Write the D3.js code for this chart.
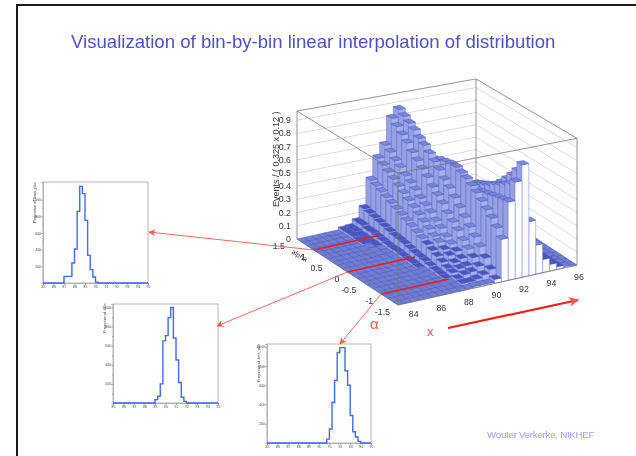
<!DOCTYPE html>
<html>
<head>
<meta charset="utf-8">
<script src="https://cdnjs.cloudflare.com/ajax/libs/d3/7.8.5/d3.min.js"></script>
<style>
	html, body { margin:0; padding:0; background:#fff; }
	svg { display:block; filter:blur(0.6px); font-family:"Liberation Sans", Arial, sans-serif; }
</style>
</head>
<body>
<svg id="plot" width="636" height="456"></svg>
<script>
// values
var alphaBins = [1.425,1.275,1.125,0.975,0.825,0.675,0.525,0.375,0.225,0.075,
	-0.075,-0.225,-0.375,-0.525,-0.675,-0.825,-0.975,-1.125,-1.275,-1.425];
var xBins = [83.25,83.75,84.25,84.75,85.25,85.75,86.25,86.75,87.25,87.75,88.25,88.75,89.25,
	89.75,90.25,90.75,91.25,91.75,92.25,92.75,93.25,93.75,94.25,94.75,95.25,95.75];
var flat = [0,0,0,0,0,0,0,0,0,0,0,0,0,0,0,0,0,0,0,0];
// one list per x bin, running along alphaBins
var heights = [
	flat, flat, flat, flat, flat, flat,
	[.02,.02,.02,.015,.015,.01,.01,.005,.005,0,0,0,0,0,0,0,0,0,0,0],
	[.025,.025,.02,.02,.015,.015,.01,.01,.01,.005,.005,0,0,0,0,0,0,0,0,0],
	[.06,.06,.05,.05,.045,.04,.035,.03,.03,.025,.02,.02,.015,.01,.01,.005,.005,0,0,0],
	[.15,.14,.13,.12,.11,.10,.09,.085,.08,.07,.06,.055,.05,.04,.03,.025,.02,.01,.005,0],
	[.36,.34,.32,.30,.28,.26,.24,.22,.20,.18,.16,.14,.12,.10,.08,.06,.05,.03,.02,.005],
	[.52,.49,.46,.43,.40,.37,.34,.31,.28,.25,.22,.19,.17,.14,.12,.09,.07,.05,.02,.01],
	[.61,.58,.54,.51,.47,.44,.41,.37,.34,.31,.27,.24,.20,.17,.14,.11,.08,.06,.03,.01],
	[.81,.77,.73,.69,.64,.60,.56,.52,.47,.43,.39,.34,.30,.26,.21,.17,.13,.09,.05,.01],
	[.87,.84,.81,.78,.74,.71,.67,.63,.59,.54,.50,.45,.40,.35,.30,.25,.20,.14,.08,.03],
	[.42,.46,.50,.53,.56,.59,.61,.63,.64,.65,.65,.63,.61,.58,.55,.51,.47,.43,.38,.32],
	[.20,.23,.27,.30,.33,.37,.40,.43,.46,.49,.50,.51,.52,.53,.54,.55,.56,.57,.58,.59],
	[.09,.12,.15,.19,.23,.27,.31,.36,.41,.46,.50,.52,.54,.56,.58,.61,.63,.66,.69,.73],
	[.04,.06,.09,.12,.15,.19,.24,.30,.37,.44,.49,.51,.53,.55,.58,.62,.67,.72,.78,.85],
	[.01,.02,.03,.04,.06,.08,.10,.13,.16,.20,.23,.26,.28,.30,.32,.34,.35,.37,.39,.41],
	[0,.01,.01,.02,.03,.04,.05,.06,.08,.10,.11,.13,.14,.15,.16,.17,.18,.19,.20,.22],
	[0,0,.01,.01,.02,.02,.03,.03,.04,.05,.05,.06,.06,.07,.07,.08,.08,.09,.09,.10],
	[0,0,0,.005,.01,.01,.015,.015,.02,.02,.02,.03,.03,.03,.03,.04,.04,.04,.05,.05],
	[0,0,0,0,0,0,.005,.005,.01,.01,.01,.01,.015,.015,.02,.02,.02,.02,.02,.02],
	[0,0,0,0,0,0,0,0,0,0,.005,.005,.005,.005,.01,.01,.01,.01,.01,.01],
	flat
];
var zTicks = [0,0.1,0.2,0.3,0.4,0.5,0.6,0.7,0.8,0.9];
var xTicks = [84,86,88,90,92,94,96];
var alphaTicks = [-1.5,-1,-0.5,0,0.5,1,1.5];
var alphaSlices = [1,0,-1];

// the three projections, 40 bins from 85 to 95
var sliceTop = [0,0,0,0,0,0,0,0,80,80,80,240,408,860,1160,1072,752,332,160,72,10,0,0,0,0,0,0,0,0,0,0,0,0,0,0,0,0,0,0,0];
var sliceMid = [0,0,0,0,0,0,0,0,0,0,0,0,0,0,0,0,35,70,200,650,705,893,1000,680,450,215,60,17,0,0,0,0,0,0,0,0,0,0,0,0];
var sliceLow = [0,0,0,0,0,0,0,0,0,0,0,0,0,0,0,0,0,0,0,0,0,0,0,40,145,420,650,940,990,990,750,600,285,117,62,17,0,0,0,0];
var sliceTicksX = [85,86,87,88,89,90,91,92,93,94,95];
var sliceTicksY = [200,400,600,800,1000];
var sliceMinorX = [85.5,86.5,87.5,88.5,89.5,90.5,91.5,92.5,93.5,94.5];
var sliceMinorY = [100,300,500,700,900];

var svg = d3.select('#plot');

// frame and headings
svg.append('path')
	.attr('d', 'M17,456V5H636')
	.attr('fill', 'none').attr('stroke', '#1c1c1c').attr('stroke-width', 2);
svg.append('text').attr('x', 71).attr('y', 48)
	.attr('font-size', 18.6).attr('fill', '#4f50c9')
	.text('Visualization of bin-by-bin linear interpolation of distribution');
svg.append('text').attr('x', 487).attr('y', 438)
	.attr('font-size', 9.8).attr('fill', '#9da2e8').attr('letter-spacing', -0.3)
	.text('Wouter Verkerke, NIKHEF');

// 3d projection
var tOf = d3.scaleLinear().domain([83,96]).range([0,1]),
	sOf = d3.scaleLinear().domain([-1.5,1.5]).range([0,1]),
	zOf = d3.scaleLinear().domain([0,1]).range([0,136]);
var tX = d3.scaleLinear().domain([0,1]).range([0,179]),
	tY = d3.scaleLinear().domain([0,1]).range([0,-40]),
	sX = d3.scaleLinear().domain([0,1]).range([0,-101]),
	sY = d3.scaleLinear().domain([0,1]).range([0,-66]);

function project(x, a, z) {
	var t = tOf(x), s = sOf(a);
	var shrink = 1 - 0.03*s - 0.04*t - 0.02*s*t;
	return [398 + tX(t) + sX(s), 305 + tY(t) + sY(s) - zOf(z)*shrink];
}
function poly(pts) { return pts.map(function(p) { return p.join(','); }).join(' '); }

var lego = svg.append('g');
var boxColor = '#777';
function edge(a, b, color, width) {
	return lego.append('line')
		.attr('x1', a[0]).attr('y1', a[1]).attr('x2', b[0]).attr('y2', b[1])
		.attr('stroke', color || boxColor).attr('stroke-width', width || 0.8);
}

// back walls with the grid lines
zTicks.forEach(function(z) {
	if (z == 0) return;
	edge(project(83,1.5,z), project(96,1.5,z), '#ccc', 0.7);
	edge(project(96,1.5,z), project(96,-1.5,z), '#ccc', 0.7);
});
edge(project(83,1.5,0), project(83,1.5,0.97));
edge(project(96,1.5,0), project(96,1.5,0.97));
edge(project(96,-1.5,0), project(96,-1.5,0.97));
edge(project(83,1.5,0.97), project(96,1.5,0.97));
edge(project(96,1.5,0.97), project(96,-1.5,0.97));

function topColor(h) {
	if (h <= 0.01) return '#727ed2';
	return h < 0.16 ? '#4a55c2' : '#7a86da';
}

// far cells first
d3.range(alphaBins.length).forEach(function(i) {
	d3.range(xBins.length - 1, -1, -1).forEach(function(j) {
		var x0 = xBins[j] - 0.25, x1 = xBins[j] + 0.25,
			a0 = alphaBins[i] - 0.075, a1 = alphaBins[i] + 0.075,
			h = heights[j][i];
		if (h > 0) {
			lego.append('polygon')
				.attr('points', poly([project(x0,a0,0), project(x0,a1,0), project(x0,a1,h), project(x0,a0,h)]))
				.attr('fill', '#96a1e4').attr('stroke', '#5965c6').attr('stroke-width', 0.45);
			lego.append('polygon')
				.attr('points', poly([project(x0,a0,0), project(x1,a0,0), project(x1,a0,h), project(x0,a0,h)]))
				.attr('fill', i == alphaBins.length - 1 ? '#fff' : '#a5afea')
				.attr('stroke', '#8490dc').attr('stroke-width', 0.6);
		}
		lego.append('polygon')
			.attr('points', poly([project(x0,a0,h), project(x1,a0,h), project(x1,a1,h), project(x0,a1,h)]))
			.attr('fill', topColor(h)).attr('stroke', '#4450b8').attr('stroke-width', 0.45);
	});
});

// front edges go over the surface
edge(project(83,-1.5,0), project(83,-1.5,0.97));
edge(project(83,-1.5,0), project(96,-1.5,0));
edge(project(83,-1.5,0), project(83,1.5,0));
edge(project(83,-1.5,0.97), project(96,-1.5,0.97));
edge(project(83,-1.5,0.97), project(83,1.5,0.97));

// axis text of the 3d plot
var labels = svg.append('g').attr('fill', '#333').attr('font-size', 8.8);
labels.selectAll('.zt').data(zTicks).enter().append('text')
	.attr('text-anchor', 'end')
	.attr('x', function(d) { return project(83,1.5,d)[0] - 6; })
	.attr('y', function(d) { return project(83,1.5,d)[1] + 3; })
	.text(function(d) { return d; });
labels.selectAll('.xt').data(xTicks).enter().append('text')
	.attr('text-anchor', 'middle')
	.attr('x', function(d) { return project(d,-1.5,0)[0] + 2; })
	.attr('y', function(d) { return project(d,-1.5,0)[1] + 15; })
	.text(function(d) { return d; });
labels.selectAll('.at').data(alphaTicks).enter().append('text')
	.attr('text-anchor', 'end')
	.attr('x', function(d) { return project(83,d,0)[0] - (d == 1.5 ? 12 : 8); })
	.attr('y', function(d) { return project(83,d,0)[1] + 10; })
	.text(function(d) { return d; });
labels.append('text')
	.attr('transform', 'translate(279,207) rotate(-90)')
	.attr('font-size', 9)
	.text('Events / ( 0.325 x 0.12 )');
labels.append('text')
	.attr('transform', 'translate(291,253) rotate(32)')
	.attr('font-size', 7)
	.text('alpha');

// small step plots
function slicePlot(values, left, top, w, h, yMax, title, titleAt, titleSize) {
	var g = svg.append('g').attr('transform', 'translate(' + left + ',' + top + ')');
	var x = d3.scaleLinear().domain([85,95]).range([0,w]),
		y = d3.scaleLinear().domain([0,yMax]).range([h,0]);
	var xAxis = d3.axisBottom(x).tickValues(sliceTicksX).tickSize(2).tickFormat(d3.format('d'));
	var yAxis = d3.axisLeft(y).tickValues(sliceTicksY).tickSize(2);

	g.append('rect').attr('width', w).attr('height', h)
		.attr('fill', 'none').attr('stroke', '#b5b5b5').attr('stroke-width', 1);
	var ax = g.append('g').attr('transform', 'translate(0,' + h + ')').call(xAxis);
	var ay = g.append('g').call(yAxis);
	[ax, ay].forEach(function(a) {
		a.select('.domain').attr('stroke', '#999').attr('stroke-width', 0.6);
		a.selectAll('line').attr('stroke', '#777').attr('stroke-width', 0.6);
		a.selectAll('text').attr('font-size', 3.4).attr('fill', '#444');
	});
	ax.selectAll('text').attr('y', 3);
	ay.selectAll('text').attr('x', -2);

	g.append('g').attr('transform', 'translate(0,' + h + ')')
		.call(d3.axisBottom(x).tickValues(sliceMinorX).tickSize(1).tickFormat(''))
		.call(function(a) { a.select('.domain').remove(); a.selectAll('line').attr('stroke', '#888').attr('stroke-width', 0.5); });
	g.append('g')
		.call(d3.axisLeft(y).tickValues(sliceMinorY).tickSize(1).tickFormat(''))
		.call(function(a) { a.select('.domain').remove(); a.selectAll('line').attr('stroke', '#888').attr('stroke-width', 0.5); });

	g.append('text')
		.attr('transform', 'translate(-7,' + titleAt + ') rotate(-90)')
		.attr('font-size', titleSize).attr('fill', '#444')
		.text(title);

	var line = d3.line()
		.curve(d3.curveStepAfter)
		.x(function(d, i) { return x(85 + i*0.25); })
		.y(function(d) { return y(d); });
	g.append('path')
		.datum(values.concat([0]))
		.attr('d', line)
		.attr('fill', 'none').attr('stroke', '#4468f0').attr('stroke-width', 1.4);
}
slicePlot(sliceTop, 43, 182, 105, 101, 1212, 'Projection of data_plot', 41, 4.1);
slicePlot(sliceMid, 113, 304, 105, 99, 1036, 'Projection of data', 29, 3.8);
slicePlot(sliceLow, 267, 344, 104, 99, 1028, 'Projection of data_plot', 38, 3.8);

// red annotations
var red = '#f25a4e';
var defs = svg.append('defs');
defs.append('marker').attr('id', 'tip').attr('viewBox', '0 0 10 10')
	.attr('refX', 9).attr('refY', 5).attr('markerWidth', 7).attr('markerHeight', 7)
	.attr('markerUnits', 'userSpaceOnUse').attr('orient', 'auto')
	.append('path').attr('d', 'M0,0L10,5L0,10L3,5Z').attr('fill', red);
defs.append('marker').attr('id', 'bigtip').attr('viewBox', '0 0 10 10')
	.attr('refX', 9).attr('refY', 5).attr('markerWidth', 10).attr('markerHeight', 10)
	.attr('markerUnits', 'userSpaceOnUse').attr('orient', 'auto')
	.append('path').attr('d', 'M0,0L10,5L0,10L3,5Z').attr('fill', red);

var tips = [[149,232],[217,326],[340,344]];
alphaSlices.forEach(function(a, i) {
	var start = project(83,a,0), end = project(87.9,a,0);
	svg.append('line')
		.attr('x1', start[0]).attr('y1', start[1]).attr('x2', tips[i][0]).attr('y2', tips[i][1])
		.attr('stroke', red).attr('stroke-width', 0.9).attr('marker-end', 'url(#tip)');
	svg.append('line')
		.attr('x1', start[0]).attr('y1', start[1]).attr('x2', end[0]).attr('y2', end[1])
		.attr('stroke', '#f01e14').attr('stroke-width', 1.5);
});
svg.append('line')
	.attr('x1', 448).attr('y1', 328).attr('x2', 578).attr('y2', 300)
	.attr('stroke', '#f01e14').attr('stroke-width', 2.2).attr('marker-end', 'url(#bigtip)');
svg.append('text').attr('x', 427).attr('y', 336).attr('font-size', 13).attr('fill', red).text('x');
svg.append('text').attr('x', 370).attr('y', 329).attr('font-size', 15).attr('fill', red).text('α');
</script>
</body>
</html>
